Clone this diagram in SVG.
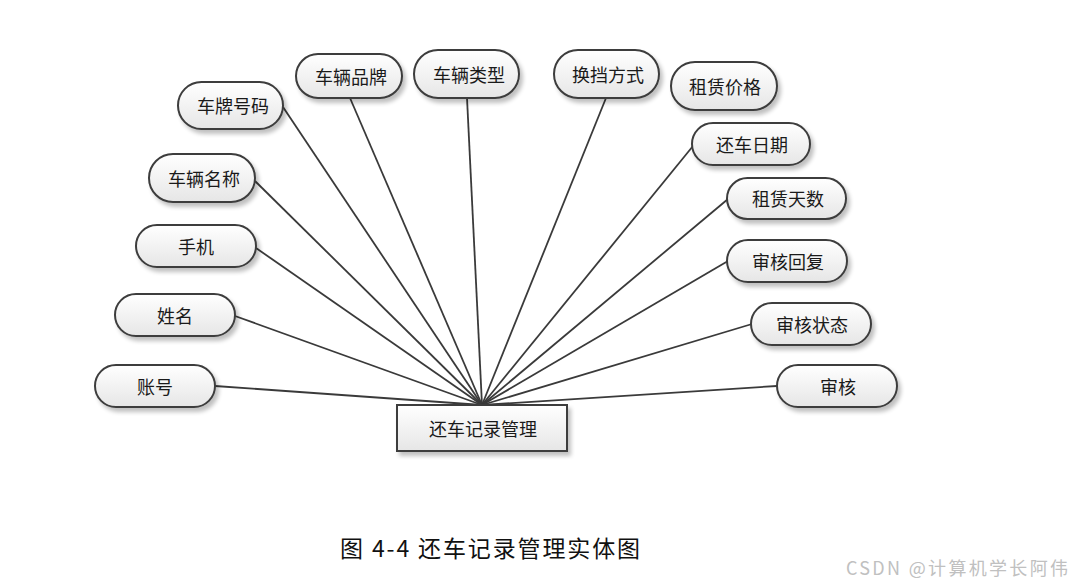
<svg xmlns="http://www.w3.org/2000/svg" width="1072" height="584" viewBox="0 0 1072 584">
<style>
.attr{fill:url(#g);stroke:#3c3c3c;stroke-width:2;filter:url(#sh)}
.ent{fill:url(#g);stroke:#3c3c3c;stroke-width:2;filter:url(#sh)}
.t{font-family:"Noto Sans CJK SC","Noto Sans",sans-serif;font-size:18px;fill:#1a1a1a;text-anchor:middle;dominant-baseline:central}
.ln{stroke:#3a3a3a;stroke-width:1.8;fill:none}
.cap{font-family:"Noto Sans CJK SC","Noto Sans",sans-serif;font-size:23px;fill:#111}
.wm{font-family:"Noto Sans CJK SC","Liberation Sans",sans-serif;font-size:18px;fill:#c0c0c0}
</style>
<defs>
<linearGradient id="g" x1="0" y1="0" x2="0" y2="1">
<stop offset="0" stop-color="#ffffff"/>
<stop offset="1" stop-color="#e6e6e6"/>
</linearGradient>
<filter id="sh" x="-20%" y="-20%" width="150%" height="160%">
<feGaussianBlur in="SourceAlpha" stdDeviation="2"/>
<feOffset dx="3" dy="4" result="b"/>
<feComponentTransfer><feFuncA type="linear" slope="0.25"/></feComponentTransfer>
<feMerge><feMergeNode/><feMergeNode in="SourceGraphic"/></feMerge>
</filter>
</defs>
<rect width="1072" height="584" fill="#fff"/>
<g id="connectors">
<line class="ln" x1="215" y1="386" x2="482" y2="405"/>
<line class="ln" x1="235" y1="316" x2="482" y2="405"/>
<line class="ln" x1="256" y1="248" x2="482" y2="405"/>
<line class="ln" x1="255" y1="181" x2="482" y2="405"/>
<line class="ln" x1="283" y1="107" x2="482" y2="405"/>
<line class="ln" x1="350" y1="98" x2="482" y2="405"/>
<line class="ln" x1="467" y1="98" x2="482" y2="405"/>
<line class="ln" x1="606" y1="98" x2="482" y2="405"/>
<line class="ln" x1="693" y1="146" x2="482" y2="405"/>
<line class="ln" x1="728" y1="199" x2="482" y2="405"/>
<line class="ln" x1="728" y1="261" x2="482" y2="405"/>
<line class="ln" x1="752" y1="324" x2="482" y2="405"/>
<line class="ln" x1="777" y1="386" x2="482" y2="405"/>
</g>
<g id="n_zhanghao"><rect class="attr" x="95" y="365" width="120" height="42" rx="21"/><text class="t" x="155" y="386">账号</text></g>
<g id="n_xingming"><rect class="attr" x="115" y="294" width="120" height="42" rx="21"/><text class="t" x="175" y="315">姓名</text></g>
<g id="n_shouji"><rect class="attr" x="136" y="225" width="120" height="42" rx="21"/><text class="t" x="196" y="246">手机</text></g>
<g id="n_clmc"><rect class="attr" x="149" y="154" width="106" height="48" rx="24"/><text class="t" x="204" y="178">车辆名称</text></g>
<g id="n_cphm"><rect class="attr" x="178" y="82" width="105" height="47" rx="23.5"/><text class="t" x="233" y="105">车牌号码</text></g>
<g id="n_clpp"><rect class="attr" x="296" y="54" width="106" height="44" rx="22"/><text class="t" x="351" y="76">车辆品牌</text></g>
<g id="n_cllx"><rect class="attr" x="414" y="50" width="105" height="48" rx="24"/><text class="t" x="469" y="74">车辆类型</text></g>
<g id="n_hdfs"><rect class="attr" x="554" y="50" width="105" height="48" rx="24"/><text class="t" x="608" y="74">换挡方式</text></g>
<g id="n_zljg"><rect class="attr" x="671" y="62" width="106" height="48" rx="24"/><text class="t" x="725" y="86">租赁价格</text></g>
<g id="n_hcrq"><rect class="attr" x="692" y="123" width="118" height="42" rx="21"/><text class="t" x="752" y="144">还车日期</text></g>
<g id="n_zlts"><rect class="attr" x="727" y="178" width="119" height="41" rx="20.5"/><text class="t" x="788" y="198">租赁天数</text></g>
<g id="n_shhf"><rect class="attr" x="727" y="240" width="120" height="42" rx="21"/><text class="t" x="788" y="261">审核回复</text></g>
<g id="n_shzt"><rect class="attr" x="751" y="303" width="120" height="42" rx="21"/><text class="t" x="812" y="324">审核状态</text></g>
<g id="n_sh"><rect class="attr" x="777" y="365" width="120" height="42" rx="21"/><text class="t" x="838" y="386">审核</text></g>
<g id="e_hcjlgl"><rect class="ent" x="397" y="405" width="170" height="46"/><text class="t" x="483" y="428">还车记录管理</text></g>
<text class="cap" x="340" y="557" textLength="300">图 4-4 还车记录管理实体图</text>
<text class="wm" x="846" y="575" textLength="222">CSDN @计算机学长阿伟</text>
</svg>
